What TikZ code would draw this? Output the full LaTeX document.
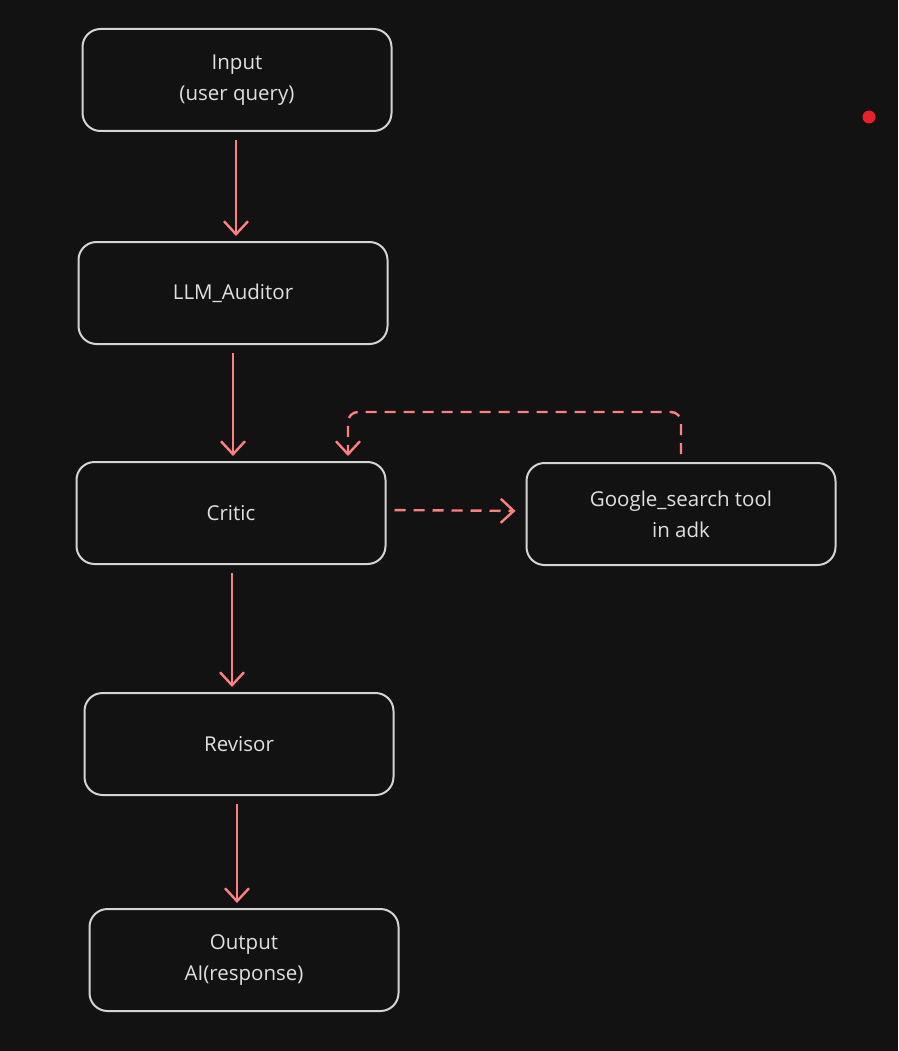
\documentclass[tikz,border=0pt]{standalone}
\usepackage{fontspec}
\setmainfont{Open Sans}
\usetikzlibrary{positioning, arrows.meta, calc}
\definecolor{bgdark}{HTML}{121212}
\definecolor{boxgrey}{HTML}{D4D4D4}
\definecolor{textgrey}{HTML}{E0E0E0}
\definecolor{arrowred}{HTML}{FF8080}
\definecolor{dotred}{HTML}{E8202A}
\begin{document}
\begin{tikzpicture}[x=1pt, y=-1pt,
            block/.style={rectangle, rounded corners=18pt, draw=boxgrey, line width=2pt, fill=bgdark, minimum width=309pt, minimum height=102pt, align=center, text=textgrey, font=\fontsize{20.5}{31}\selectfont},
            flow/.style={draw=arrowred, line width=2.4pt, -{Straight Barb[length=13pt, width=24pt]}, shorten <=8pt, shorten >=5pt},
            feedback/.style={flow, dash pattern=on 11pt off 8pt}
        ]
            \fill[bgdark] (0,0) rectangle (898,1051);
            \useasboundingbox (0,0) rectangle (898,1051);

            % Main chain
            \node[block] (input) at (237,80) {Input\\(user query)};
            \node[block] (auditor) at (233,293) {LLM\_Auditor};
            \node[block] (critic) at (231,513) {Critic};
            \node[block] (revisor) at (239,744) {Revisor};
            \node[block] (output) at (244,960) {Output\\AI(response)};

            % Search tool
            \node[block] (tool) at (681,514) {Google\_search tool\\in adk};

            % Red marker
            \fill[dotred] (869,117) circle (6.5pt);

            % Straight arrows
            \draw[flow] ([xshift=-1pt]input.south) -- ([xshift=-1pt]input.south |- auditor.north);
            \draw[flow] (auditor.south) -- (auditor.south |- critic.north);
            \draw[flow] ([xshift=1pt]critic.south) -- ([xshift=1pt]critic.south |- revisor.north);
            \draw[flow] ([xshift=-2pt]revisor.south) -- ([xshift=-2pt]revisor.south |- output.north);

            % Dashed arrows to and from the tool
            \draw[feedback, shorten >=10pt] ([yshift=3pt]critic.east) -- ([yshift=3pt]tool.west);
            \draw[feedback, rounded corners=10pt] (tool.north) -- ++(0,-50) -| ([xshift=117pt]critic.north);
        \end{tikzpicture}
\end{document}
